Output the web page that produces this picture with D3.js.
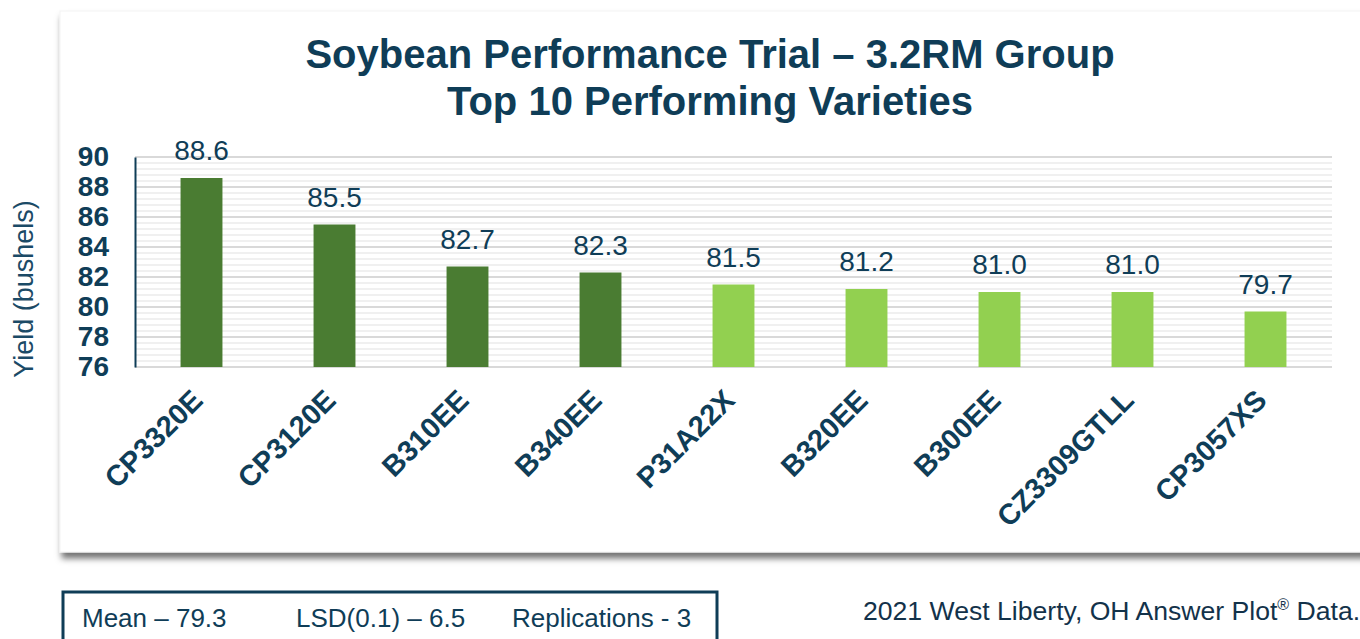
<!DOCTYPE html>
<html>
<head>
<meta charset="utf-8">
<script src="https://d3js.org/d3.v7.min.js"></script>
<style>
  body { margin: 0; background: #ffffff; }
  svg { display: block; font-family: "Liberation Sans", Arial, sans-serif; }
</style>
</head>
<body>
<div id="chart"></div>
<script>
  // varieties and yields
  var varieties = ["CP3320E", "CP3120E", "B310EE", "B340EE", "P31A22X", "B320EE", "B300EE", "CZ3309GTLL", "CP3057XS"];
  var yields = [88.6, 85.5, 82.7, 82.3, 81.5, 81.2, 81.0, 81.0, 79.7];
  var topGroup = [true, true, true, true, false, false, false, false, false];
  var yTicks = [76, 78, 80, 82, 84, 86, 88, 90];
  var titleLines = ["Soybean Performance Trial \u2013 3.2RM Group", "Top 10 Performing Varieties"];
  var statTexts = ["Mean \u2013 79.3", "LSD(0.1) \u2013 6.5", "Replications - 3"];

  var navy = "#0f3d57";
  var darkGreen = "#4a7c32";
  var lightGreen = "#92d050";

  var W = 1360, H = 639;
  var plotLeft = 135, plotRight = 1332, plotTop = 157, plotBottom = 367;

  var svg = d3.select("#chart").append("svg").attr("width", W).attr("height", H);

  var defs = svg.append("defs");
  var f = defs.append("filter").attr("id", "shadow").attr("x", "-5%").attr("y", "-5%").attr("width", "110%").attr("height", "115%");
  f.append("feDropShadow").attr("dx", 2).attr("dy", 6).attr("stdDeviation", 3).attr("flood-color", "#000").attr("flood-opacity", 0.55);

  // card
  svg.append("rect")
    .attr("x", 60).attr("y", 11).attr("width", 1340).attr("height", 541)
    .attr("fill", "#ffffff").attr("stroke", "#f3f3f3").attr("stroke-width", 1)
    .attr("filter", "url(#shadow)");

  var x = d3.scaleBand().domain(varieties).range([plotLeft, plotRight]).paddingInner(0.685).paddingOuter(0.3425);
  var y = d3.scaleLinear().domain([76, 90]).range([plotBottom, plotTop]);

  // minor gridlines every 0.4
  var minor = [];
  for (var i = 0; i <= 35; i++) { if (i % 5 != 0) minor.push(76 + i * 0.4); }
  svg.append("g").selectAll("line").data(minor).enter().append("line")
    .attr("x1", plotLeft).attr("x2", plotRight)
    .attr("y1", function(d) { return y(d); }).attr("y2", function(d) { return y(d); })
    .attr("stroke", "#f0f0f0").attr("stroke-width", 2);

  svg.append("g").selectAll("line").data(yTicks).enter().append("line")
    .attr("x1", plotLeft).attr("x2", plotRight)
    .attr("y1", function(d) { return y(d); }).attr("y2", function(d) { return y(d); })
    .attr("stroke", "#d9d9d9").attr("stroke-width", 2);

  // bars
  svg.append("g").selectAll("rect").data(yields).enter().append("rect")
    .attr("x", function(d, i) { return x(varieties[i]); })
    .attr("width", x.bandwidth())
    .attr("y", function(d) { return y(d); })
    .attr("height", function(d) { return y(76) - y(d); })
    .attr("fill", function(d, i) { return topGroup[i] ? darkGreen : lightGreen; });

  // value labels
  svg.append("g").selectAll("text").data(yields).enter().append("text")
    .attr("x", function(d, i) { return x(varieties[i]) + x.bandwidth() / 2; })
    .attr("y", function(d) { return y(d) - 18; })
    .attr("text-anchor", "middle")
    .attr("font-size", 28).attr("fill", navy)
    .text(function(d) { return d.toFixed(1); });

  // y axis
  var yAxis = d3.axisLeft(y).tickValues(yTicks).tickSize(0).tickPadding(26);
  var gy = svg.append("g").attr("transform", "translate(" + plotLeft + ",0)").call(yAxis);
  gy.select(".domain").attr("stroke", navy).attr("stroke-width", 2);
  gy.selectAll("text").attr("font-size", 28).attr("font-weight", "bold").attr("fill", navy)
    .attr("font-family", "Liberation Sans, Arial, sans-serif");

  // x axis
  var xAxis = d3.axisBottom(x).tickSize(0).tickPadding(0);
  var gx = svg.append("g").attr("transform", "translate(0," + plotBottom + ")").call(xAxis);
  gx.select(".domain").remove();
  gx.selectAll("text")
    .attr("font-size", 29).attr("font-weight", "bold").attr("fill", navy)
    .attr("font-family", "Liberation Sans, Arial, sans-serif")
    .attr("text-anchor", "end")
    .attr("dy", null).attr("y", 0).attr("x", 0)
    .attr("transform", "translate(3,35) rotate(-45)");

  svg.append("text")
    .attr("transform", "translate(33,289) rotate(-90)")
    .attr("text-anchor", "middle")
    .attr("font-size", 27).attr("fill", "#1b4a66")
    .text("Yield (bushels)");

  // title
  svg.append("g").selectAll("text").data(titleLines).enter().append("text")
    .attr("x", 710).attr("y", function(d, i) { return 68 + i * 47; })
    .attr("text-anchor", "middle")
    .attr("font-size", 40).attr("font-weight", "bold").attr("fill", navy)
    .text(function(d) { return d; });

  // stats box
  svg.append("rect").attr("x", 63).attr("y", 592).attr("width", 654).attr("height", 60)
    .attr("fill", "none").attr("stroke", navy).attr("stroke-width", 3);
  var statX = [82, 296, 512];
  svg.append("g").selectAll("text").data(statTexts).enter().append("text")
    .attr("x", function(d, i) { return statX[i]; }).attr("y", 627)
    .attr("font-size", 26).attr("fill", navy)
    .text(function(d) { return d; });

  var note = svg.append("text").attr("x", 863).attr("y", 620)
    .attr("font-size", 26.6).attr("fill", "#13324a");
  note.append("tspan").text("2021 West Liberty, OH Answer Plot");
  note.append("tspan").attr("font-size", 16).attr("dy", -10).text("\u00ae");
  note.append("tspan").attr("dy", 10).text(" Data.");
</script>
</body>
</html>
